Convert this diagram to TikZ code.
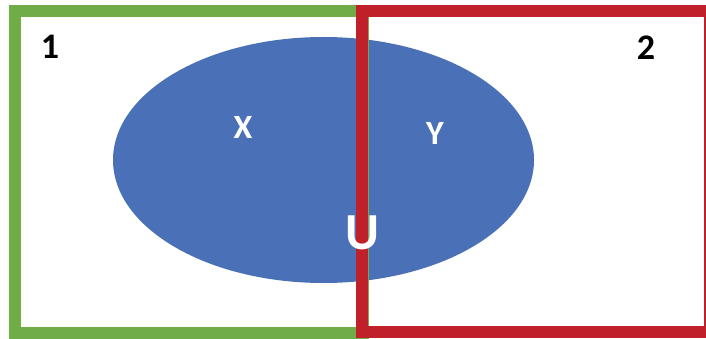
\documentclass[tikz,border=0pt]{standalone}
\usepackage{fontspec}
\setmainfont{Carlito}
\usepackage{tikz}
\usetikzlibrary{shapes.geometric}
\definecolor{setblue}{HTML}{4A70B7}
\definecolor{boxgreen}{HTML}{70AD47}
\definecolor{boxred}{HTML}{C0202A}
\tikzstyle{blob} = [ellipse, inner sep=0pt, minimum width=421pt, minimum height=246pt, fill=setblue]
\tikzstyle{greenbox} = [rectangle, inner sep=0pt, draw=boxgreen, line width=12pt]
\tikzstyle{redbox} = [rectangle, inner sep=0pt, draw=boxred, line width=12pt]
\tikzstyle{num} = [font=\bfseries\fontsize{36}{36}\selectfont, text=black]
\tikzstyle{part} = [font=\bfseries\fontsize{34}{34}\selectfont, text=white]

\begin{document}
\begin{tikzpicture}[x=1pt, y=-1pt]
    \useasboundingbox (0,0) rectangle (706,339);
    \clip (0,0) rectangle (706,339);

    % Set
    \node (set) [blob] at (323.5,160) {};

    % Boxes
    \node (box1) [greenbox, minimum width=348pt, minimum height=322pt] at (189,172) {};
    \node (box2) [redbox, minimum width=348pt, minimum height=321pt] at (536,171.5) {};

    % Labels
    \node (one) [num] at (50,47) {1};
    \node (two) [num] at (646,48) {2};
    \node (x) [part] at (243,127) {X};
    \node (y) [part] at (435,133) {Y};
    \node (u) [part, font=\bfseries\fontsize{52}{52}\selectfont] at (362,233) {U};

\end{tikzpicture}
\end{document}
